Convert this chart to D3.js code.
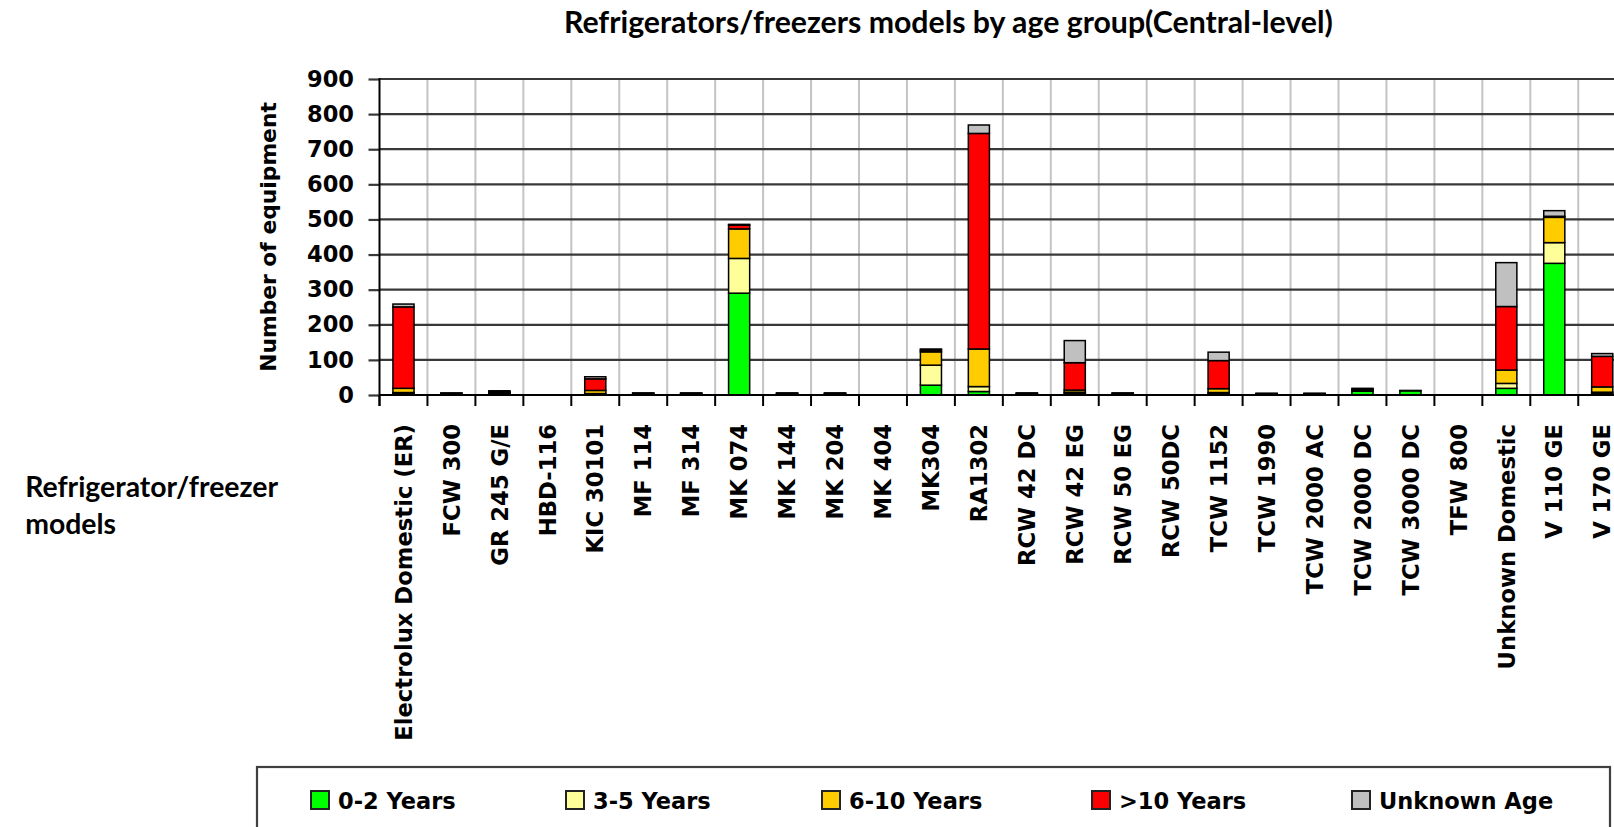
<!DOCTYPE html>
<html>
<head>
<meta charset="utf-8">
<script src="https://cdn.jsdelivr.net/npm/d3@7"></script>
<style>
body { margin: 0; background: #fff; overflow: hidden; }
</style>
</head>
<body>
<div id="chart"></div>
<script>
// data
const models = ["Electrolux Domestic (ER)", "FCW 300", "GR 245 G/E", "HBD-116", "KIC 30101", "MF 114", "MF 314",
    "MK 074", "MK 144", "MK 204", "MK 404", "MK304", "RA1302", "RCW 42 DC", "RCW 42 EG", "RCW 50 EG", "RCW 50DC",
    "TCW 1152", "TCW 1990", "TCW 2000 AC", "TCW 2000 DC", "TCW 3000 DC", "TFW 800", "Unknown Domestic", "V 110 GE", "V 170 GE"];
const age0to2    = [3, 0, 3, 0, 2, 1, 1, 290, 1, 1, 0, 28, 10, 1, 5, 1, 0, 3, 1, 1, 11, 12, 0, 19, 375, 4];
const age3to5    = [4, 0, 2, 0, 2, 1, 1, 99, 1, 1, 0, 57, 14, 1, 3, 1, 0, 4, 1, 1, 2, 0, 0, 14, 59, 4];
const age6to10   = [12, 2, 2, 0, 9, 1, 1, 84, 1, 1, 0, 38, 107, 1, 6, 1, 0, 11, 1, 1, 2, 0, 0, 38, 72, 15];
const ageOver10  = [232, 3, 3, 0, 33, 2, 2, 11, 2, 2, 0, 5, 614, 2, 78, 2, 0, 80, 1, 1, 2, 0, 0, 181, 3, 87];
const ageUnknown = [8, 1, 2, 0, 6, 1, 1, 2, 1, 1, 0, 3, 24, 1, 63, 1, 0, 24, 1, 1, 2, 1, 0, 125, 16, 8];
const seriesNames = ["0-2 Years", "3-5 Years", "6-10 Years", ">10 Years", "Unknown Age"];
const seriesColors = ["#00ff00", "#ffff99", "#ffcc00", "#ff0000", "#c0c0c0"];
const yTicks = [0, 100, 200, 300, 400, 500, 600, 700, 800, 900];

// layout
var width = 1614, height = 827;
var plotLeft = 379.5, step = 47.95, plotTop = 79, plotBottom = 395;
var legendItemX = [310, 565, 821, 1091, 1351];

const svg = d3.select("#chart").append("svg")
    .attr("width", width)
    .attr("height", height);

var rows = models.map(function(m, i) {
    return {model: m, "0-2 Years": age0to2[i], "3-5 Years": age3to5[i], "6-10 Years": age6to10[i],
        ">10 Years": ageOver10[i], "Unknown Age": ageUnknown[i]};
});
var stacked = d3.stack().keys(seriesNames)(rows);

var xScale = d3.scaleBand().domain(models)
    .range([plotLeft, plotLeft + step * models.length])
    .paddingInner(0.56).paddingOuter(0.28);
var yScale = d3.scaleLinear().domain([0, 900]).range([plotBottom, plotTop]);
var color = d3.scaleOrdinal().domain(seriesNames).range(seriesColors);

// category boundaries
var gap = (xScale.step() - xScale.bandwidth()) / 2;
var bounds = models.map(function(m) { return xScale(m) - gap; });
bounds.push(xScale(models[models.length - 1]) + xScale.bandwidth() + gap);

// vertical grid
svg.append("g").selectAll("line").data(bounds.slice(1)).enter().append("line")
    .attr("x1", d => d).attr("x2", d => d)
    .attr("y1", yScale(900)).attr("y2", yScale(0))
    .attr("stroke", "#c4c4c4").attr("stroke-width", 2);

// horizontal grid
svg.append("g").selectAll("line").data(yTicks).enter().append("line")
    .attr("x1", plotLeft).attr("x2", width)
    .attr("y1", d => yScale(d)).attr("y2", d => yScale(d))
    .attr("stroke", "#383838").attr("stroke-width", 2.2);

// bars
svg.append("g").selectAll("g").data(stacked).enter().append("g")
    .attr("fill", d => color(d.key))
    .selectAll("rect").data(d => d).enter().append("rect")
    .attr("x", d => xScale(d.data.model))
    .attr("width", xScale.bandwidth())
    .attr("y", d => yScale(d[1]))
    .attr("height", d => yScale(d[0]) - yScale(d[1]))
    .attr("stroke", "#000").attr("stroke-width", 1.5);

// y axis
var yAxis = svg.append("g")
    .attr("transform", "translate(" + plotLeft + ",0)")
    .call(d3.axisLeft(yScale).tickValues(yTicks).tickSize(11).tickPadding(14.5));
yAxis.select(".domain").remove();
yAxis.selectAll(".tick line").attr("stroke", "#383838").attr("stroke-width", 2.2);
yAxis.selectAll("text")
    .attr("font-family", "DejaVu Sans").attr("font-weight", "bold").attr("font-size", 22.5).attr("fill", "#000");
svg.append("line")
    .attr("x1", plotLeft).attr("x2", plotLeft)
    .attr("y1", yScale(900) - 1).attr("y2", plotBottom + 11)
    .attr("stroke", "#000").attr("stroke-width", 2);

// x axis
svg.append("line")
    .attr("x1", plotLeft).attr("x2", width)
    .attr("y1", plotBottom).attr("y2", plotBottom)
    .attr("stroke", "#000").attr("stroke-width", 2);
svg.append("g").selectAll("line").data(bounds).enter().append("line")
    .attr("x1", d => d).attr("x2", d => d)
    .attr("y1", plotBottom).attr("y2", plotBottom + 11)
    .attr("stroke", "#000").attr("stroke-width", 2);
var xAxis = svg.append("g")
    .attr("transform", "translate(0," + plotBottom + ")")
    .call(d3.axisBottom(xScale).tickSize(0));
xAxis.select(".domain").remove();
xAxis.selectAll("text")
    .attr("transform", "rotate(-90)")
    .attr("text-anchor", "end")
    .attr("x", -29).attr("y", 0).attr("dy", "0.36em")
    .attr("font-family", "DejaVu Sans").attr("font-weight", "bold").attr("font-size", 22.7).attr("fill", "#000");

// axis titles
svg.append("text")
    .attr("transform", "translate(268," + (plotTop + plotBottom) / 2 + ") rotate(-90)")
    .attr("text-anchor", "middle").attr("dy", "0.36em")
    .attr("font-family", "DejaVu Sans").attr("font-weight", "bold").attr("font-size", 21.8)
    .text("Number of equipment");

var title = svg.append("text")
    .attr("x", 564).attr("y", 32.5)
    .attr("font-family", "Lato").attr("font-weight", "bold").attr("font-size", 28)
    .text("Refrigerators/freezers models by age group(Central-level)");
var tw = title.node().getComputedTextLength();
title.attr("font-size", 28 * 769 / tw);

// category axis title, two lines, first line ending at x = 278
var probe = svg.append("text")
    .attr("font-family", "Lato").attr("font-weight", "bold").attr("font-size", 28)
    .text("erator/freezer");
var fs = 28 * 178 / probe.node().getComputedTextLength();
probe.remove();
var xTitle = svg.append("text")
    .attr("font-family", "Lato").attr("font-weight", "bold").attr("font-size", fs);
var line1 = xTitle.append("tspan").attr("y", 497).text("Refrigerator/freezer");
var x0 = 278 - line1.node().getComputedTextLength();
line1.attr("x", x0);
xTitle.append("tspan").attr("x", x0).attr("y", 534).text("models");

// legend
svg.append("rect")
    .attr("x", 257).attr("y", 767).attr("width", 1353).attr("height", 90)
    .attr("fill", "none").attr("stroke", "#404040").attr("stroke-width", 2.2);
var leg = svg.append("g").selectAll("g").data(seriesNames).enter().append("g")
    .attr("transform", (d, i) => "translate(" + legendItemX[i] + ",790)");
leg.append("rect")
    .attr("x", 1).attr("y", 1).attr("width", 18).attr("height", 18)
    .attr("fill", d => color(d)).attr("stroke", "#222").attr("stroke-width", 2);
leg.append("text")
    .attr("x", 28).attr("y", 19)
    .attr("font-family", "DejaVu Sans").attr("font-weight", "bold").attr("font-size", 22.5)
    .text(d => d);
</script>
</body>
</html>
